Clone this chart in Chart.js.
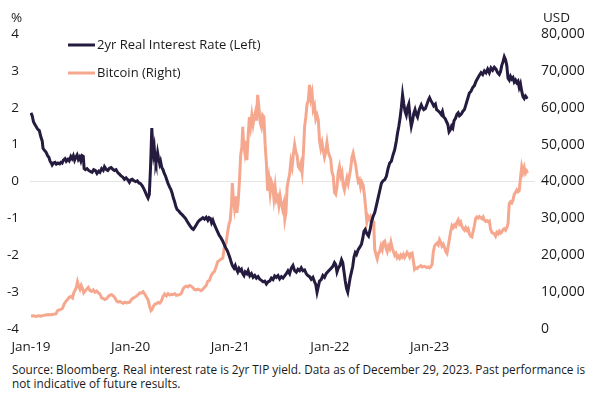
<!DOCTYPE html>
<html>
<head>
<meta charset="utf-8">
<script src="https://cdn.jsdelivr.net/npm/chart.js@4.4.0/dist/chart.umd.min.js"></script>
<style>
  html, body { margin: 0; padding: 0; background: #ffffff; }
  #wrap { position: relative; width: 600px; height: 395px; overflow: hidden; }
  canvas { display: block; }
  #note { position: absolute; left: 12px; top: 362px; width: 600px; font-family: "Open Sans", sans-serif; font-size: 11.8px; line-height: 14px; color: #1a1a1a; white-space: nowrap; }
</style>
</head>
<body>
<div id="wrap">
  <canvas id="c" width="600" height="360"></canvas>
  <div id="note">Source: Bloomberg. Real interest rate is 2yr TIP yield. Data as of December 29, 2023. Past performance is<br>not indicative of future results.</div>
</div>
<script>
// Months since Jan 2019
const rateMonths = [0,0.15,0.3,0.45,0.6,0.8,1.0,1.2,1.35,1.45,1.6,1.8,2.0,2.15,2.3,2.45,2.55,2.7,2.9,3.05,3.25,3.45,3.6,3.75,3.9,4.1,4.25,4.45,4.6,4.8,4.95,5.1,5.25,5.4,5.55,5.7,5.85,6.0,6.15,6.3,6.4,6.55,6.75,6.95,7.15,7.35,7.55,7.75,7.95,8.15,8.3,8.5,8.7,8.85,9.05,9.25,9.45,9.65,9.85,10.05,10.25,10.45,10.65,10.85,11.05,11.25,11.45,11.65,11.85,12.0,12.2,12.4,12.6,12.8,13.0,13.2,13.4,13.6,13.8,13.95,14.1,14.25,14.4,14.55,14.65,14.75,14.85,14.95,15.05,15.15,15.25,15.35,15.5,15.6,15.75,15.9,16.05,16.2,16.35,16.5,16.7,16.85,17.0,17.15,17.3,17.45,17.6,17.8,18.0,18.2,18.4,18.6,18.8,19.0,19.2,19.4,19.55,19.7,19.9,20.1,20.3,20.5,20.7,20.9,21.1,21.3,21.45,21.6,21.75,21.9,22.05,22.25,22.45,22.65,22.85,23.05,23.25,23.45,23.65,23.85,24.0,24.15,24.3,24.45,24.6,24.75,24.9,25.05,25.2,25.35,25.5,25.65,25.8,26.0,26.15,26.35,26.55,26.75,26.95,27.15,27.35,27.55,27.75,27.95,28.15,28.35,28.55,28.75,28.95,29.15,29.35,29.55,29.75,29.95,30.15,30.35,30.55,30.75,30.95,31.15,31.35,31.55,31.75,31.95,32.15,32.35,32.55,32.75,32.95,33.15,33.35,33.55,33.75,33.95,34.15,34.3,34.45,34.6,34.75,34.95,35.15,35.35,35.55,35.75,35.95,36.15,36.35,36.55,36.7,36.85,37.0,37.2,37.4,37.55,37.7,37.85,38.0,38.15,38.3,38.45,38.6,38.75,38.9,39.05,39.2,39.4,39.6,39.8,39.95,40.1,40.25,40.45,40.65,40.85,41.0,41.2,41.4,41.6,41.8,42.0,42.2,42.4,42.6,42.8,43.0,43.2,43.4,43.6,43.8,44.0,44.15,44.3,44.45,44.6,44.75,44.9,45.05,45.2,45.35,45.5,45.65,45.8,45.95,46.1,46.25,46.4,46.55,46.7,46.85,47.0,47.15,47.3,47.5,47.7,47.85,48.0,48.15,48.35,48.5,48.7,48.85,49.0,49.2,49.4,49.55,49.7,49.9,50.05,50.2,50.35,50.5,50.65,50.8,50.95,51.1,51.3,51.45,51.6,51.8,52.0,52.2,52.4,52.6,52.8,53.0,53.2,53.4,53.6,53.8,54.0,54.2,54.4,54.6,54.8,55.0,55.2,55.4,55.6,55.8,56.0,56.2,56.4,56.55,56.7,56.85,57.0,57.15,57.3,57.45,57.6,57.75,57.9,58.05,58.2,58.35,58.5,58.65,58.8,58.95,59.1,59.25,59.4,59.55,59.7,59.8];
const rateValues = [1.86,1.78,1.62,1.55,1.5,1.42,1.38,1.2,1.1,0.9,0.85,0.8,0.7,0.66,0.55,0.5,0.45,0.5,0.52,0.47,0.5,0.48,0.52,0.5,0.58,0.62,0.55,0.6,0.56,0.68,0.62,0.7,0.58,0.66,0.72,0.6,0.66,0.56,0.7,0.68,0.35,0.32,0.35,0.3,0.27,0.25,0.32,0.3,0.22,0.28,0.25,0.35,0.3,0.4,0.33,0.3,0.36,0.38,0.33,0.3,0.32,0.24,0.2,0.15,0.12,0.06,0.1,0.05,-0.02,0.04,0.06,0.02,0.0,0.02,-0.04,-0.06,-0.12,-0.2,-0.3,-0.38,-0.45,-0.35,0.4,1.45,1.0,0.75,0.9,0.6,0.5,0.6,0.78,0.65,0.48,0.55,0.38,0.32,0.22,0.15,0.05,-0.05,-0.15,-0.22,-0.32,-0.45,-0.55,-0.68,-0.76,-0.8,-0.86,-0.9,-0.95,-1.0,-1.08,-1.15,-1.22,-1.28,-1.3,-1.25,-1.18,-1.1,-1.05,-1.02,-0.98,-1.02,-0.97,-1.05,-0.98,-1.0,-1.12,-1.05,-1.15,-1.25,-1.35,-1.45,-1.52,-1.6,-1.7,-1.8,-1.88,-2.0,-2.1,-2.22,-2.3,-2.35,-2.28,-2.38,-2.45,-2.36,-2.42,-2.38,-2.5,-2.55,-2.45,-2.5,-2.42,-2.56,-2.5,-2.6,-2.55,-2.62,-2.58,-2.65,-2.68,-2.72,-2.7,-2.78,-2.72,-2.7,-2.62,-2.66,-2.56,-2.6,-2.55,-2.64,-2.58,-2.62,-2.56,-2.5,-2.42,-2.5,-2.35,-2.28,-2.42,-2.46,-2.38,-2.42,-2.34,-2.42,-2.4,-2.5,-2.55,-2.58,-2.65,-2.6,-2.72,-2.8,-3.0,-2.85,-2.7,-2.66,-2.55,-2.6,-2.5,-2.45,-2.4,-2.35,-2.3,-2.2,-2.25,-2.45,-2.35,-2.28,-2.12,-2.2,-2.45,-2.7,-2.9,-3.0,-2.8,-2.6,-2.45,-2.3,-2.05,-1.93,-1.98,-1.85,-1.78,-1.7,-1.55,-1.35,-1.3,-1.42,-1.48,-1.3,-1.1,-0.95,-0.84,-0.65,-0.45,-0.25,-0.05,0.02,0.05,0.14,0.35,0.5,0.55,0.72,0.86,1.1,1.32,1.5,1.72,2.0,2.35,2.1,1.9,1.8,2.0,2.1,1.75,1.5,1.65,1.85,1.95,1.82,1.75,1.9,2.0,2.08,2.0,1.95,1.98,2.1,2.2,2.27,2.2,2.12,2.05,2.1,1.95,1.92,1.88,1.82,1.9,1.75,1.7,1.62,1.55,1.35,1.4,1.5,1.45,1.65,1.7,1.82,1.86,1.78,1.82,1.9,1.95,2.1,2.25,2.4,2.45,2.55,2.6,2.72,2.8,2.88,2.95,2.9,3.0,2.95,3.05,2.95,3.08,3.02,3.1,3.05,2.95,2.9,2.98,3.15,3.25,3.38,3.3,3.15,2.8,2.75,2.85,2.78,2.82,2.7,2.75,2.68,2.72,2.55,2.65,2.45,2.3,2.25,2.32,2.28,2.3];
const btcMonths = [0,0.3,0.6,0.9,1.2,1.5,1.8,2.1,2.4,2.7,3.0,3.2,3.4,3.6,3.8,4.0,4.2,4.4,4.6,4.8,5.0,5.15,5.3,5.45,5.6,5.75,5.9,6.05,6.2,6.35,6.5,6.7,6.9,7.1,7.3,7.5,7.7,7.9,8.1,8.3,8.5,8.7,8.9,9.1,9.3,9.5,9.7,9.9,10.1,10.3,10.5,10.7,10.9,11.1,11.3,11.5,11.7,11.9,12.1,12.3,12.5,12.7,12.9,13.1,13.3,13.5,13.7,13.9,14.1,14.3,14.45,14.6,14.75,14.9,15.1,15.3,15.5,15.7,15.9,16.1,16.3,16.5,16.7,16.9,17.1,17.3,17.5,17.7,17.9,18.1,18.3,18.5,18.7,18.9,19.1,19.3,19.5,19.7,19.9,20.1,20.3,20.5,20.7,20.9,21.1,21.3,21.5,21.7,21.9,22.1,22.3,22.5,22.7,22.9,23.1,23.3,23.5,23.7,23.85,24.0,24.15,24.25,24.35,24.5,24.65,24.8,24.95,25.1,25.25,25.4,25.5,25.6,25.75,25.9,26.0,26.15,26.3,26.45,26.6,26.75,26.9,27.05,27.15,27.3,27.45,27.6,27.75,27.9,28.05,28.2,28.35,28.5,28.65,28.8,28.95,29.1,29.25,29.4,29.55,29.7,29.85,30.0,30.15,30.3,30.45,30.57,30.7,30.85,31.0,31.15,31.3,31.45,31.6,31.75,31.9,32.05,32.2,32.35,32.5,32.65,32.8,32.95,33.1,33.25,33.4,33.55,33.7,33.85,34.0,34.15,34.3,34.45,34.6,34.75,34.9,35.05,35.2,35.35,35.5,35.65,35.8,35.95,36.1,36.25,36.4,36.55,36.7,36.85,37.0,37.15,37.3,37.45,37.6,37.75,37.9,38.05,38.2,38.35,38.5,38.65,38.8,38.95,39.1,39.25,39.4,39.55,39.7,39.85,40.0,40.15,40.3,40.45,40.6,40.75,40.9,41.05,41.2,41.3,41.4,41.55,41.7,41.85,42.0,42.15,42.3,42.45,42.6,42.75,42.9,43.05,43.2,43.35,43.5,43.65,43.8,43.95,44.1,44.25,44.4,44.55,44.7,44.85,45.0,45.15,45.3,45.45,45.6,45.75,45.9,46.05,46.2,46.35,46.5,46.65,46.8,46.95,47.1,47.25,47.4,47.55,47.7,47.85,48.0,48.15,48.3,48.45,48.6,48.75,48.9,49.05,49.2,49.35,49.5,49.65,49.8,49.95,50.1,50.25,50.4,50.55,50.7,50.85,51.0,51.15,51.3,51.45,51.6,51.75,51.9,52.05,52.2,52.35,52.5,52.65,52.8,52.95,53.1,53.25,53.4,53.55,53.7,53.85,54.0,54.15,54.3,54.45,54.6,54.75,54.9,55.05,55.2,55.35,55.5,55.65,55.8,55.95,56.1,56.25,56.4,56.55,56.7,56.85,57.0,57.15,57.3,57.45,57.6,57.75,57.9,58.05,58.2,58.35,58.5,58.65,58.8,58.95,59.1,59.25,59.4,59.55,59.7,59.8];
const btcValues = [3500,3600,3400,3600,3500,3700,3800,3900,3850,4000,4100,5000,5200,5300,5600,6800,7500,8000,8600,8800,8400,9800,10500,11200,12800,11600,10800,11800,11000,9800,10200,10800,11300,10400,10200,10600,10000,10300,9800,9500,8400,8300,8000,8200,8800,9200,9300,9000,8500,7600,7300,7500,7200,7000,7300,7100,7200,7300,8000,8400,8600,8900,9300,9800,9700,10100,9500,8700,7900,6000,5000,5400,6200,6700,6900,7200,7000,7600,8800,9500,9000,9600,9200,9400,9300,9600,9100,9200,9300,9600,10800,11400,11600,11400,11800,11600,11200,10700,10600,10800,10600,10400,10800,11300,11800,13000,13200,14500,15200,15600,16900,18300,18600,19000,19200,22500,23400,26500,28500,29500,34000,39600,36000,33000,36000,31500,34500,40000,47000,49500,54800,50500,48000,51000,45800,52000,57500,55000,58000,55500,57500,59000,56500,63500,60000,56000,54800,58000,57500,50000,45000,37500,40500,36900,40000,39000,35500,38500,35000,35800,33500,36000,34000,32500,34000,29800,31500,38500,40400,42000,45500,44000,47500,50000,48000,47000,44000,43500,44800,42500,47500,54800,57500,61000,62000,66200,62500,64000,59500,60500,57000,58000,56700,51000,49000,50500,48500,46600,48000,50500,48000,47000,46000,42500,41500,37000,36500,38500,42500,44000,41500,42500,39000,37700,39500,41000,39500,41500,43500,46500,47700,46000,44500,42000,40000,40500,38500,39800,39000,36500,33000,29000,30500,29800,30500,29600,29200,27000,21500,20200,19000,20500,21000,22500,21500,23500,23800,22000,21000,22500,21800,23500,22000,21000,20000,20500,19300,19800,19200,20000,19500,20200,19400,20000,20800,20300,19500,20500,20600,18500,16200,16600,16400,16800,16900,17200,16800,16900,17000,16800,16600,16800,16600,16900,17500,20800,22500,23000,23300,22800,24200,23500,22500,23000,22200,21000,20500,22500,24500,26500,28000,27500,28200,27800,29000,29600,28500,29000,27800,27200,26800,27500,26800,27200,25800,25200,25000,26500,28000,30000,30400,30100,30500,30200,29900,30400,29500,29200,29400,29100,29300,27000,26200,26000,25800,25200,26200,25800,26500,26000,26300,27000,27200,26800,27500,28500,34000,34500,34200,35000,36500,37000,37700,37200,37500,41000,44000,42500,43800,42200,42800,42300];
const tickMonths = [0, 12, 24, 36, 48];
const tickLabels = ["Jan-19", "Jan-20", "Jan-21", "Jan-22", "Jan-23"];
const seriesNames = ["2yr Real Interest Rate (Left)", "Bitcoin (Right)"];
const seriesColors = ["#241b3e", "#f6a88f"];

const ratePts = rateMonths.map((m, i) => ({ x: m, y: rateValues[i] }));
const btcPts = btcMonths.map((m, i) => ({ x: m, y: btcValues[i] }));

const FONT = '"Open Sans", sans-serif';

const overlay = {
  id: 'overlay',
  afterDraw(chart) {
    const ctx = chart.ctx;
    ctx.save();
    ctx.fillStyle = '#1a1a1a';
    ctx.font = '13.5px ' + FONT;
    ctx.textBaseline = 'middle';
    ctx.textAlign = 'left';
    ctx.fillText('%', 11, 18);
    ctx.fillText('USD', 543, 18);
    // legend
    const ys = [45, 73];
    ctx.font = '13px ' + FONT;
    seriesNames.forEach((n, i) => {
      ctx.strokeStyle = seriesColors[i];
      ctx.lineWidth = 3;
      ctx.beginPath();
      ctx.moveTo(68, ys[i]);
      ctx.lineTo(95, ys[i]);
      ctx.stroke();
      ctx.fillStyle = '#1a1a1a';
      ctx.fillText(n, 97, ys[i] + 0.5);
    });
    ctx.restore();
  }
};

new Chart(document.getElementById('c'), {
  type: 'line',
  data: {
    datasets: [
      { label: seriesNames[0], data: ratePts, yAxisID: 'y', borderColor: seriesColors[0], borderWidth: 3, pointRadius: 0, tension: 0, order: 1 },
      { label: seriesNames[1], data: btcPts, yAxisID: 'y1', borderColor: seriesColors[1], borderWidth: 3, pointRadius: 0, tension: 0, order: 2 }
    ]
  },
  options: {
    responsive: false,
    animation: false,
    layout: { padding: { top: 34, left: 0, right: 0, bottom: 0 } },
    plugins: { legend: { display: false }, tooltip: { enabled: false } },
    scales: {
      x: {
        type: 'linear', min: -0.12, max: 60.7,
        grid: { display: false, drawTicks: false }, border: { display: false },
        afterBuildTicks: s => { s.ticks = tickMonths.map(v => ({ value: v })); },
        ticks: { autoSkip: false, maxRotation: 0, padding: 10, color: '#1a1a1a', font: { family: FONT, size: 13.5 },
          callback: (v) => { const i = tickMonths.indexOf(v); return i >= 0 ? tickLabels[i] : ''; } },
        afterFit: s => { s.height = 31; }
      },
      y: {
        position: 'left', min: -4, max: 4,
        grid: { drawTicks: false, color: c => (c.tick && c.tick.value === 0) ? '#e4e4e4' : 'rgba(0,0,0,0)', lineWidth: 1 },
        border: { display: false },
        ticks: { stepSize: 1, padding: 11, color: '#1a1a1a', font: { family: FONT, size: 13.5 } },
        afterFit: s => { s.width = 30; }
      },
      y1: {
        position: 'right', min: 0, max: 80000,
        grid: { display: false, drawTicks: false }, border: { display: false },
        ticks: { stepSize: 10000, padding: 6, color: '#1a1a1a', font: { family: FONT, size: 14 },
          callback: v => v.toLocaleString('en-US') },
        afterFit: s => { s.width = 65; }
      }
    }
  },
  plugins: [overlay]
});
</script>
</body>
</html>
